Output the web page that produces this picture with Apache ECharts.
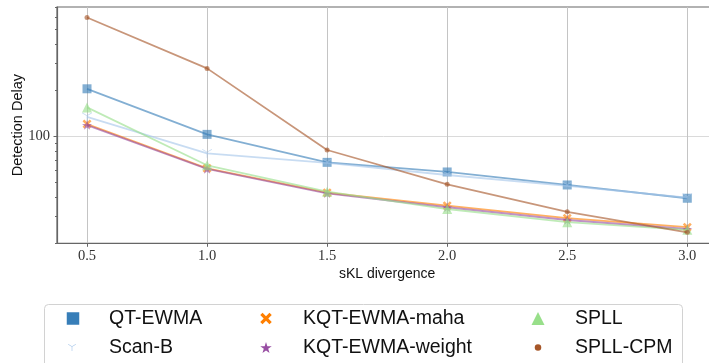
<!DOCTYPE html>
<html><head><meta charset="utf-8">
<script src="https://cdn.jsdelivr.net/npm/echarts@6/dist/echarts.min.js"></script>
<style>html,body{margin:0;padding:0;background:#fff}#c{width:709px;height:363px}</style>
</head><body><div id="c"></div>
<script>
const xValues = [0.5, 1.0, 1.5, 2.0, 2.5, 3.0];
const qtEwma = [204.5, 103, 67.6, 58.5, 48.1, 39.4];
const scanB = [134, 77.4, 67, 55.9, 47.4, 39.8];
const kqtMaha = [120.3, 61.8, 42.8, 35.2, 29.2, 25.5];
const kqtWeight = [118.5, 61.2, 42.4, 34.4, 28.4, 24.8];
const spll = [154.6, 64.7, 43.5, 33.5, 27.5, 24.5];
const spllCpm = [598, 278, 81.4, 48.6, 32.1, 23.6];
const xTicks = [0.5, 1.0, 1.5, 2.0, 2.5, 3.0];
const yMajorTicks = [100];
const yMinorTicks = [20, 30, 40, 50, 60, 70, 80, 90, 200, 300, 400, 500, 600, 700];
const seriesNames = ['QT-EWMA', 'Scan-B', 'KQT-EWMA-maha', 'KQT-EWMA-weight', 'SPLL', 'SPLL-CPM'];

const X_PATH = 'path://M-10,-6L-6,-10L0,-4L6,-10L10,-6L4,0L10,6L6,10L0,4L-6,10L-10,6L-4,0Z';
const STAR_PATH = 'path://M0,-10L2.245,-3.09L9.51,-3.09L3.633,1.18L5.878,8.09L0,3.82L-5.878,8.09L-3.633,1.18L-9.51,-3.09L-2.245,-3.09Z';
const Y_PATH = 'path://M0.7,10L0.7,0.404L9.01,-4.394L8.31,-5.606L0,-0.808L-8.31,-5.606L-9.01,-4.394L-0.7,0.404L-0.7,10Z';

const styles = [
  {data: qtEwma, color: '#377eb8', symbol: 'rect', size: 9, lsize: 12.5, lx: 73, ly: 318.5, tx: 109},
  {data: scanB, color: '#a6c6ea', symbol: Y_PATH, size: [10, 8.7], lsize: 8, lx: 72, ly: 347.5, tx: 109},
  {data: kqtMaha, color: '#ff7f00', symbol: X_PATH, size: 9, lsize: 11.5, lx: 266, ly: 318.5, tx: 303},
  {data: kqtWeight, color: '#984ea3', symbol: STAR_PATH, size: [10, 9.5], lsize: 11.5, lx: 266, ly: 347.5, tx: 303},
  {data: spll, color: '#98df8a', symbol: 'triangle', size: 10, lsize: 13, lx: 538, ly: 318.5, tx: 575},
  {data: spllCpm, color: '#a65628', symbol: 'circle', size: 5, lsize: 6.5, lx: 538, ly: 347.5, tx: 575}
];

const series = styles.map((s, i) => ({
  name: seriesNames[i],
  type: 'line',
  yAxisIndex: 0,
  data: xValues.map((x, j) => [x, s.data[j]]),
  symbol: s.symbol,
  symbolSize: s.size,
  showSymbol: true,
  lineStyle: {width: 1.8, color: s.color, opacity: 0.62},
  itemStyle: {color: s.color, opacity: 0.62},
  z: 2 + i,
  animation: false
}));

const legends = styles.map((s, i) => ({
  data: [{name: seriesNames[i], icon: s.symbol}],
  left: s.lx - s.lsize / 2,
  top: s.ly - 10,
  orient: 'vertical',
  padding: 0,
  itemWidth: s.lsize,
  itemHeight: s.lsize,
  selectedMode: false,
  itemStyle: {opacity: 1},
  textStyle: {
    fontSize: 19.5, fontFamily: 'Liberation Sans, Arial, sans-serif', color: '#111',
    lineHeight: 20, padding: [0, 0, 0, s.tx - (s.lx + s.lsize / 2 + 5)]
  }
}));

const chart = echarts.init(document.getElementById('c'), null, {renderer: 'canvas'});
chart.setOption({
  animation: false,
  backgroundColor: '#fff',
  grid: {left: 57, top: 7, right: -8.3, bottom: 119.7, show: true, borderColor: '#666', borderWidth: 1.2,
    backgroundColor: 'transparent', containLabel: false, outerBoundsMode: 'none'},
  xAxis: {
    type: 'value', min: 0.375, max: 3.125,
    name: 'sKL divergence', nameLocation: 'middle', nameGap: 24, nameMoveOverlap: false,
    nameTextStyle: {fontSize: 14, fontFamily: 'Liberation Sans, Arial, sans-serif', color: '#111'},
    axisLine: {show: true, lineStyle: {color: '#666', width: 1.2}},
    axisTick: {show: true, customValues: xTicks, length: 3.5, lineStyle: {color: '#666'}},
    axisLabel: {customValues: xTicks, margin: 5, formatter: v => v.toFixed(1),
      fontSize: 14.5, fontFamily: 'Liberation Serif, Times New Roman, serif', color: '#333'},
    splitLine: {show: true, lineStyle: {color: '#c4c4c4', width: 1}}
  },
  yAxis: [{
    type: 'log', logBase: 10, min: 20, max: 700,
    name: 'Detection Delay', nameLocation: 'middle', nameGap: 32, nameRotate: 90, nameMoveOverlap: false,
    nameTextStyle: {fontSize: 14.5, fontFamily: 'Liberation Sans, Arial, sans-serif', color: '#111', verticalAlign: 'bottom'},
    axisLine: {show: true, lineStyle: {color: '#666', width: 1.2}},
    axisTick: {show: true, customValues: yMajorTicks, length: 3.5, lineStyle: {color: '#666'}},
    axisLabel: {customValues: yMajorTicks, margin: 7, formatter: v => String(Math.round(v)),
      fontSize: 14.5, fontFamily: 'Liberation Serif, Times New Roman, serif', color: '#333'},
    splitLine: {show: true, lineStyle: {color: '#dadada', width: 1}},
    minorTick: {show: false}
  }, {
    type: 'log', logBase: 10, min: 20, max: 700, position: 'left',
    axisLine: {show: false},
    axisTick: {show: true, customValues: yMinorTicks, length: 2, lineStyle: {color: '#666'}},
    axisLabel: {show: false},
    splitLine: {show: false}
  }],
  legend: legends,
  graphic: [{
    type: 'rect', z: 0,
    shape: {x: 44.5, y: 304.5, width: 638, height: 80, r: 4},
    style: {fill: '#fff', stroke: '#d2d2d2', lineWidth: 1}
  }],
  series: series
});
</script></body></html>
